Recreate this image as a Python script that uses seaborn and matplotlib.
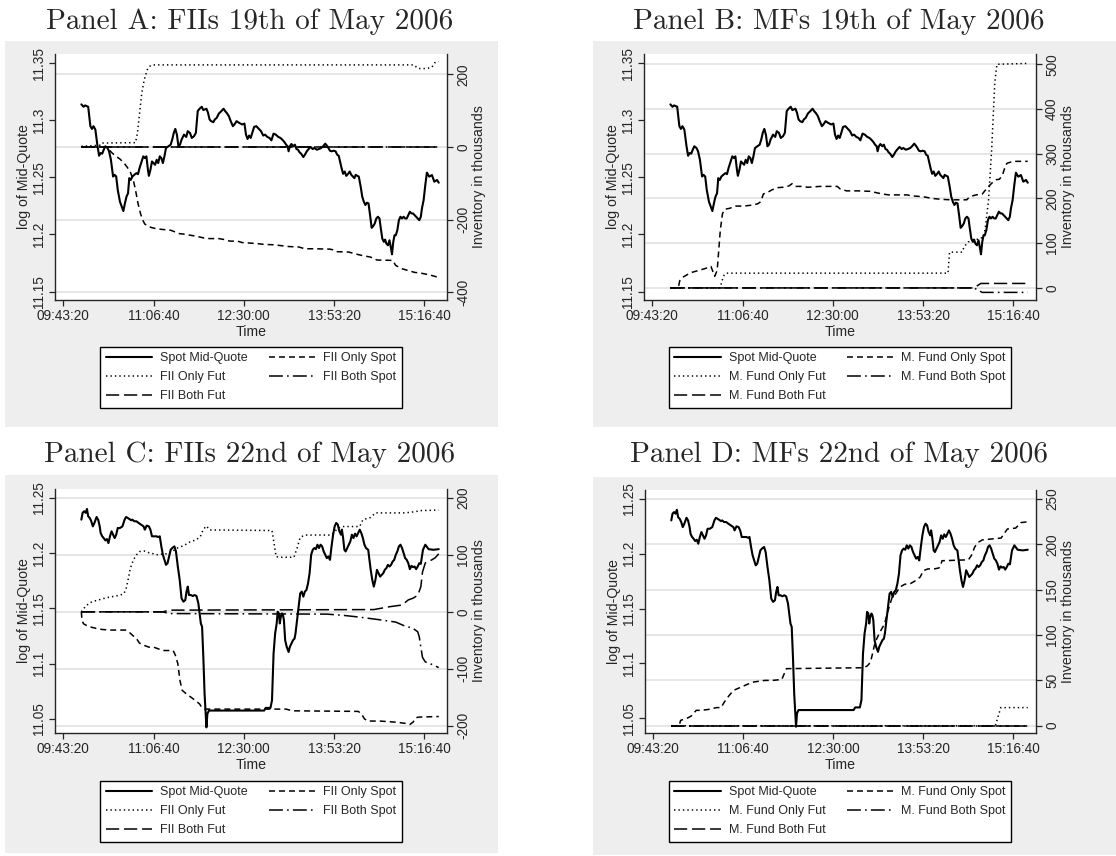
import matplotlib
matplotlib.use('Agg')
import matplotlib.pyplot as plt
from matplotlib.patches import Rectangle
from matplotlib.lines import Line2D
from matplotlib.ticker import FixedLocator
import seaborn as sns

# ---- axis ticks (time in seconds after midnight) ----
time_ticks = [35000, 40000, 45000, 50000, 55000]
time_labels = ['09:43:20', '11:06:40', '12:30:00', '13:53:20', '15:16:40']

# ---- spot mid-quote, 19th of May ----
spot19_t = [36000, 36121, 36207, 36379, 36500, 36586, 36672, 36776, 36896, 36983,
            37069, 37155, 37241, 37327, 37448, 37534, 37638, 37758, 37845, 37931,
            38017, 38138, 38241, 38327, 38414, 38500, 38586, 38655, 38741, 38827,
            38931, 39051, 39138, 39224, 39310, 39431, 39517, 39603, 39689, 39741,
            39827, 39913, 40000, 40086, 40172, 40258, 40344, 40431, 40517, 40603,
            40689, 40827, 40948, 41034, 41120, 41206, 41293, 41379, 41465, 41551,
            41689, 41810, 41896, 42017, 42120, 42241, 42344, 42448, 42551, 42672,
            42758, 42930, 43017, 43103, 43189, 43310, 43396, 43499, 43620, 43758,
            43879, 43965, 44051, 44172, 44275, 44396,
            44479, 44601, 44740, 44913, 45035, 45122, 45208, 45295, 45382, 45469,
            45573, 45694, 45816, 45955, 46076, 46180, 46302, 46424, 46528, 46649,
            46771, 46910, 47031, 47170, 47257, 47344, 47430, 47482, 47552, 47639,
            47743, 47830, 47916, 48003, 48090, 48177, 48298, 48385, 48489, 48594,
            48698, 48819, 48906, 49045, 49166, 49288, 49392, 49514, 49600, 49687,
            49774, 49861, 49982, 50086, 50173, 50260, 50330, 50416, 50503, 50590,
            50677, 50781, 50868, 50954, 51041, 51128, 51198, 51284, 51371, 51475,
            51562, 51649, 51736, 51822, 51909, 51996, 52083, 52170, 52256, 52343,
            52430, 52517, 52586, 52673, 52760, 52829, 52899, 52986, 53072, 53142,
            53211, 53281, 53350, 53420, 53506, 53593, 53680, 53767, 53854, 53940,
            54027, 54114, 54201, 54288, 54374, 54461, 54548, 54635, 54722, 54808,
            54870, 54963, 55056, 55145, 55275, 55425, 55554, 55705, 55800]
spot19_v = [11.3139, 11.3118, 11.3130, 11.3118, 11.2948, 11.2924, 11.2948, 11.2918, 11.2772, 11.2689,
            11.2713, 11.2707, 11.2742, 11.2772, 11.2757, 11.2728, 11.2654, 11.2507, 11.2522, 11.2507,
            11.2390, 11.2287, 11.2243, 11.2205, 11.2272, 11.2331, 11.2360, 11.2493, 11.2478, 11.2507,
            11.2522, 11.2537, 11.2528, 11.2581, 11.2625, 11.2684, 11.2669, 11.2684, 11.2566, 11.2513,
            11.2566, 11.2639, 11.2625, 11.2610, 11.2654, 11.2625, 11.2684, 11.2669, 11.2625, 11.2684,
            11.2757, 11.2772, 11.2786, 11.2830, 11.2889, 11.2924, 11.2874, 11.2772, 11.2786, 11.2830,
            11.2874, 11.2854, 11.2904, 11.2889, 11.2845, 11.2860, 11.2889, 11.3080, 11.3101, 11.3118,
            11.3089, 11.3101, 11.3065, 11.3007, 11.2992, 11.2983, 11.3007, 11.3021, 11.3059, 11.3080,
            11.3101, 11.3080, 11.3065, 11.3036, 11.2992, 11.2948,
            11.2963, 11.2992, 11.2977, 11.2963, 11.2971, 11.2874, 11.2836, 11.2866, 11.2845, 11.2889,
            11.2942, 11.2948, 11.2927, 11.2904, 11.2866, 11.2874, 11.2854, 11.2845, 11.2824, 11.2883,
            11.2874, 11.2854, 11.2845, 11.2824, 11.2807, 11.2786, 11.2772, 11.2728, 11.2772, 11.2792,
            11.2772, 11.2786, 11.2748, 11.2742, 11.2719, 11.2707, 11.2678, 11.2698, 11.2728, 11.2748,
            11.2766, 11.2748, 11.2757, 11.2742, 11.2748, 11.2757, 11.2772, 11.2795, 11.2778, 11.2757,
            11.2733, 11.2728, 11.2733, 11.2728, 11.2698, 11.2689, 11.2639, 11.2581, 11.2531, 11.2551,
            11.2513, 11.2531, 11.2551, 11.2522, 11.2507, 11.2493, 11.2522, 11.2513, 11.2507, 11.2419,
            11.2331, 11.2287, 11.2258, 11.2278, 11.2272, 11.2170, 11.2058, 11.2073, 11.2096, 11.2140,
            11.2155, 11.2140, 11.2058, 11.1964, 11.1935, 11.1955, 11.1920, 11.1905, 11.1949, 11.1890,
            11.1826, 11.1935, 11.1993, 11.1993, 11.2037, 11.2125, 11.2155, 11.2140, 11.2155, 11.2140,
            11.2140, 11.2170, 11.2199, 11.2184, 11.2184, 11.2170, 11.2155, 11.2140, 11.2125, 11.2155,
            11.2228, 11.2301, 11.2433, 11.2541, 11.2506, 11.2520, 11.2462, 11.2477, 11.2453]

# ---- spot mid-quote, 22nd of May ----
spot22_t = [36000, 36069, 36155, 36241, 36310, 36379, 36465, 36552, 36638, 36724,
            36845, 36931, 37017, 37069, 37155, 37241, 37327, 37414, 37500, 37586,
            37672, 37758, 37845, 37931, 38017, 38138, 38276, 38396, 38482, 38569,
            38655, 38758, 38827, 38931, 39051, 39172, 39310, 39448, 39517, 39620,
            39741, 39827, 39913, 40034, 40172, 40258, 40344, 40431, 40517, 40603,
            40689, 40775, 40862, 40948, 41034, 41155, 41241, 41344, 41448, 41551,
            41655, 41758, 41827, 41896, 41965, 42068, 42172, 42275, 42379, 42482,
            42551, 42620, 42689, 42758, 42827, 42879, 42930, 42982, 43068, 44392,
            46128, 46215, 46476, 46562, 46649, 46736, 46823, 46875, 46944, 46996,
            47048, 47118, 47170, 47222, 47292, 47378, 47482, 47552, 47639, 47726,
            47812, 47864, 47951, 48038, 48125, 48212, 48298, 48385, 48472, 48559,
            48646, 48732, 48819, 48906, 48993, 49080, 49166, 49253, 49340, 49427,
            49514, 49600, 49687, 49774, 49861, 49948, 50034, 50121, 50208, 50295,
            50382, 50434, 50503, 50573, 50642, 50729, 50816, 50902, 50989, 51076,
            51163, 51250, 51336, 51423, 51510, 51597, 51684, 51770, 51892, 51961,
            52031, 52118, 52204, 52291, 52378, 52465, 52552, 52638, 52725, 52812,
            52899, 52986, 53072, 53159, 53246, 53333, 53420, 53506, 53593, 53680,
            53767, 53854, 53940, 54027, 54114, 54201, 54288, 54374, 54461, 54548,
            54635, 54722, 54808, 54926, 55056, 55237, 55517, 55800]
spot22_v = [11.2303, 11.2364, 11.2379, 11.2364, 11.2400, 11.2333, 11.2318, 11.2288, 11.2242, 11.2273,
            11.2327, 11.2303, 11.2242, 11.2182, 11.2152, 11.2136, 11.2115, 11.2127, 11.2091, 11.2152,
            11.2197, 11.2167, 11.2136, 11.2167, 11.2227, 11.2227, 11.2242, 11.2303, 11.2327, 11.2318,
            11.2309, 11.2297, 11.2303, 11.2288, 11.2288, 11.2273, 11.2258, 11.2242, 11.2212, 11.2249,
            11.2242, 11.2212, 11.2152, 11.2152, 11.2152, 11.2145, 11.2152, 11.2061, 11.1985, 11.1939,
            11.1894, 11.1909, 11.1970, 11.2030, 11.2046, 11.2061, 11.2015, 11.1879, 11.1758, 11.1591,
            11.1561, 11.1576, 11.1652, 11.1697, 11.1621, 11.1621, 11.1612, 11.1621, 11.1612, 11.1546,
            11.1455, 11.1364, 11.1333, 11.1061, 11.0727, 11.0576, 11.0424, 11.0546, 11.0576, 11.0576,
            11.0576, 11.0600, 11.0600, 11.0667, 11.1091, 11.1273, 11.1364, 11.1470, 11.1455, 11.1364,
            11.1424, 11.1455, 11.1440, 11.1394, 11.1212, 11.1152, 11.1106, 11.1152, 11.1182, 11.1212,
            11.1227, 11.1273, 11.1394, 11.1515, 11.1636, 11.1652, 11.1606, 11.1652, 11.1667, 11.1727,
            11.1818, 11.1985, 11.2030, 11.2046, 11.2036, 11.2076, 11.2046, 11.2076, 11.2061, 11.2015,
            11.1985, 11.1955, 11.1970, 11.1939, 11.2061, 11.2167, 11.2242, 11.2273, 11.2258, 11.2197,
            11.2167, 11.2212, 11.2136, 11.2030, 11.2015, 11.2046, 11.2076, 11.2106, 11.2167, 11.2136,
            11.2176, 11.2152, 11.2182, 11.2212, 11.2182, 11.2136, 11.2076, 11.2046, 11.2030, 11.1939,
            11.1849, 11.1758, 11.1697, 11.1758, 11.1849, 11.1818, 11.1788, 11.1803, 11.1818, 11.1849,
            11.1864, 11.1894, 11.1879, 11.1894, 11.1924, 11.1939, 11.1985, 11.2015, 11.2061, 11.2076,
            11.2046, 11.2000, 11.1955, 11.1939, 11.1909, 11.1855, 11.1885, 11.1873, 11.1879, 11.1855,
            11.1879, 11.1909, 11.1903, 11.2030, 11.2076, 11.2036, 11.2030, 11.2036]

# ---- inventories (thousands), Panel A: FIIs 19th of May ----
fii19_only_spot_t = [36000, 37414, 37500, 37672, 37931, 38138, 38362, 38534, 38707, 38879,
                     38999, 39138, 39276, 39396, 39517, 39689, 39913, 40172, 40517, 40948,
                     41206, 41379, 41724, 42068, 42413, 42758, 43103, 43620, 43965, 44223,
                     44654, 44913, 45260, 45781, 46128, 46649, 46996, 47517, 48038, 48385,
                     48906, 49774, 49948, 50121, 50816, 51163, 51510, 52031, 52378, 53246,
                     53420, 53767, 54114, 54461, 54808, 55300, 55800]
fii19_only_spot_v = [0, 0, -5, -15, -26, -33, -44, -55, -68, -91,
                     -118, -155, -183, -201, -212, -218, -222, -225, -227, -229,
                     -234, -238, -240, -243, -246, -250, -252, -252, -255, -259,
                     -259, -263, -264, -266, -268, -269, -271, -274, -275, -280,
                     -280, -281, -283, -288, -289, -294, -298, -303, -311, -312,
                     -326, -335, -340, -345, -347, -352, -359]
fii19_only_fut_t = [36000, 37069, 37155, 38999, 39103, 39224, 39344, 39482, 39655, 39827,
                    40000, 54409, 54668, 55145, 55425, 55580, 55800]
fii19_only_fut_v = [2, 5, 11, 12, 37, 92, 147, 185, 213, 224,
                    226, 226, 216, 216, 220, 232, 235]
fii19_both_spot_t = [36000, 55800]
fii19_both_spot_v = [0, 0]
fii19_both_fut_t = [36000, 55800]
fii19_both_fut_v = [0, 0]

# ---- Panel B: MFs 19th of May ----
mf19_only_spot_t = [36000, 36434, 36521, 36693, 36953, 37212, 37557, 37903, 38249, 38335,
                    38456, 38594, 38681, 38767, 38888, 39026, 39285, 39631, 40063, 40495,
                    40841, 41013, 41152, 41359, 41618, 41877, 42223, 42569, 42741, 42914,
                    43346, 43605, 44297, 44988, 45247, 45420, 45765, 46370, 47061, 47407,
                    47753, 48098, 48617, 49135, 49308, 49999, 50517, 51036, 51554, 52073,
                    52418, 52591, 52937, 53282, 53541, 53801, 54060, 54233, 54406, 54579,
                    54669, 55000, 55800]
mf19_only_spot_v = [0, 0, 16, 24, 30, 35, 39, 43, 48, 39,
                    26, 39, 84, 129, 166, 176, 178, 183, 183, 185,
                    188, 193, 210, 213, 219, 224, 225, 228, 233, 227,
                    227, 225, 227, 227, 227, 221, 217, 217, 216, 213,
                    210, 208, 208, 208, 206, 204, 200, 198, 197, 197,
                    197, 204, 208, 210, 223, 234, 242, 243, 253, 275,
                    279, 283, 283]
mf19_only_fut_t = [36000, 38767, 38853, 38974, 39112, 51381, 51468, 52159, 52280, 52505,
                   53109, 53368, 53455, 53628, 53801, 53974, 54094, 55800]
mf19_only_fut_v = [0, 0, 15, 28, 33, 33, 80, 80, 92, 103,
                   110, 114, 136, 196, 309, 459, 500, 502]
mf19_both_spot_t = [36000, 52820, 53280, 55800]
mf19_both_spot_v = [0, 0, -10, -10]
mf19_both_fut_t = [36000, 52820, 53200, 55800]
mf19_both_fut_v = [0, 0, 10, 10]

# ---- Panel C: FIIs 22nd of May ----
fii22_only_spot_t = [36000, 36034, 36121, 36293, 36552, 36810, 37155, 37586, 38448, 38620,
                     38827, 39051, 39224, 39482, 39741, 40000, 40258, 40517, 41086, 41206,
                     41344, 41465, 41586, 41810, 42068, 42327, 42551, 42672, 42844, 47344,
                     47691, 51336, 51510, 51684, 51857, 52552, 53420, 53940, 54201, 54374,
                     54548, 54722, 55800]
fii22_only_spot_v = [0, -15, -21, -24, -27, -29, -31, -32, -32, -35,
                     -41, -47, -55, -59, -62, -62, -65, -68, -68, -76,
                     -91, -121, -138, -144, -150, -156, -162, -168, -171, -171,
                     -174, -175, -179, -188, -192, -192, -194, -196, -198, -194,
                     -186, -185, -184]
fii22_only_fut_t = [36000, 36207, 36465, 36724, 37069, 37414, 37758, 38103, 38362, 38482,
                    38586, 38707, 38879, 39051, 39224, 39482, 39741, 40000, 40258, 40517,
                    40775, 41034, 41293, 41551, 41810, 42068, 42327, 42586, 42758, 42930,
                    43103, 46562, 46649, 46788, 46996, 47778, 47951, 48125, 48385, 49774,
                    49948, 50208, 50469, 51423, 51597, 52031, 52291, 53940, 54461, 54808,
                    55800]
fii22_only_fut_v = [0, 9, 16, 19, 22, 25, 27, 29, 32, 41,
                    56, 76, 91, 100, 106, 107, 104, 102, 100, 102,
                    102, 106, 112, 115, 119, 124, 126, 132, 145, 151,
                    144, 143, 126, 97, 96, 96, 112, 131, 135, 135,
                    138, 147, 150, 150, 162, 166, 174, 174, 176, 178,
                    179]
fii22_both_spot_t = [36000, 40517, 40862, 49600, 50469, 51336, 52552, 53420, 53854, 54374,
                     54635, 54722, 54808, 54900, 55056, 55393, 55600, 55800]
fii22_both_spot_v = [0, 0, -3, -4, -6, -9, -14, -18, -24, -29,
                     -35, -44, -62, -80, -88, -92, -95, -98]
fii22_both_fut_t = [36000, 40517, 40862, 52204, 52552, 53072, 53767, 54114, 54374, 54635,
                    54808, 54900, 55056, 55393, 55600, 55800]
fii22_both_fut_v = [0, 0, 3, 4, 6, 9, 12, 21, 24, 29,
                    44, 70, 86, 91, 95, 102]

# ---- Panel D: MFs 22nd of May ----
mf22_only_spot_t = [36000, 36434, 36521, 36693, 36953, 37125, 37385, 37644, 38076, 38508,
                    38767, 38940, 39199, 39458, 39804, 40149, 40495, 40841, 41186, 41618,
                    42137, 42223, 42396, 42569, 46681, 46889, 47061, 47148, 47321, 47580,
                    47839, 48012, 48271, 48444, 48703, 48962, 49308, 49567, 49826, 49999,
                    50258, 50604, 50863, 50949, 51036, 52505, 52677, 52850, 53023, 53282,
                    53801, 54319, 54669, 55132, 55410, 55800]
mf22_only_spot_v = [0, 0, 6, 7, 9, 11, 17, 17, 18, 20,
                    20, 26, 33, 39, 42, 45, 48, 49, 50, 50,
                    51, 55, 63, 63, 64, 66, 70, 77, 92, 103,
                    112, 125, 142, 145, 153, 156, 157, 160, 164, 171,
                    173, 173, 174, 176, 182, 183, 188, 197, 202, 205,
                    206, 207, 217, 218, 224, 225]
mf22_only_fut_t = [36000, 54000, 54150, 54300, 55800]
mf22_only_fut_v = [0, 0, 10, 20, 20]
mf22_both_spot_t = [36000, 55800]
mf22_both_spot_v = [0, 0]
mf22_both_fut_t = [36000, 55800]
mf22_both_fut_v = [0, 0]

fii_names = ['FII Only Spot', 'FII Only Fut', 'FII Both Spot', 'FII Both Fut']
mf_names = ['M. Fund Only Spot', 'M. Fund Only Fut', 'M. Fund Both Spot', 'M. Fund Both Fut']

left_ticks_19 = [11.15, 11.2, 11.25, 11.3, 11.35]
left_ticks_22 = [11.05, 11.1, 11.15, 11.2, 11.25]
right_ticks_a = [-400, -200, 0, 200]
right_ticks_b = [0, 100, 200, 300, 400, 500]
right_ticks_c = [-200, -100, 0, 100, 200]
right_ticks_d = [0, 50, 100, 150, 200, 250]

# ---- style ----
sns.set_style('ticks')
plt.rcParams['font.family'] = ['Liberation Sans', 'DejaVu Sans']
plt.rcParams['lines.scale_dashes'] = False

W, H = 1116, 856
BOX = '#eeeeee'
GRID = '#e2e2e2'

# (linewidth, dash pattern in points)
spot_style = (1.5, None)
inv_styles = [(1.1, (4.3, 2.9)),        # only spot: short dash
              (1.1, (1.0, 2.2)),        # only fut: dots
              (1.1, (10, 3, 1.2, 3)),   # both spot: long dash dot
              (1.1, (9.5, 3.5))]        # both fut: long dash


def px_rect(x0, y0, x1, y1):
    return [x0 / W, 1 - y1 / H, (x1 - x0) / W, (y1 - y0) / H]


def fmt(v):
    return ('%.2f' % v).rstrip('0').rstrip('.')


fig = plt.figure(figsize=(W / 100, H / 100), dpi=100)


def draw_panel(box, rect, title, title_xy, legend_xy, spot_t, spot_v, inv, names,
               left_lim, left_ticks, right_lim, right_ticks):
    fig.patches.append(Rectangle((box[0] / W, 1 - box[3] / H), (box[2] - box[0]) / W,
                                 (box[3] - box[1]) / H, transform=fig.transFigure,
                                 facecolor=BOX, edgecolor='none', zorder=-10))
    fig.text(title_xy[0] / W, 1 - title_xy[1] / H, title, ha='center', va='center',
             fontsize=21, fontfamily='cmr10')

    ax = fig.add_axes(px_rect(*rect))
    ax2 = ax.twinx()
    ax.set_zorder(ax2.get_zorder() + 1)
    ax.patch.set_visible(False)
    ax2.patch.set_visible(True)
    ax2.patch.set_facecolor('white')

    # inventories on the right axis
    for (t, v), (lw, d) in zip(inv, inv_styles):
        sns.lineplot(x=t, y=v, ax=ax2, color='black', linewidth=lw, estimator=None, sort=False)
        ax2.get_lines()[-1].set_dashes(d)
    # spot mid-quote on the left axis
    sns.lineplot(x=spot_t, y=spot_v, ax=ax, color='black', linewidth=spot_style[0],
                 estimator=None, sort=False)

    ax.set_xlim(34540, 56258)
    ax.set_ylim(*left_lim)
    ax2.set_ylim(*right_lim)

    ax.xaxis.set_major_locator(FixedLocator(time_ticks))
    ax.set_xticklabels(time_labels)
    ax.yaxis.set_major_locator(FixedLocator(left_ticks))
    ax.set_yticklabels([fmt(v) for v in left_ticks])
    ax2.yaxis.set_major_locator(FixedLocator(right_ticks))
    ax2.set_yticklabels([str(v) for v in right_ticks])

    ax2.yaxis.grid(True, color=GRID, linewidth=1.2)
    ax2.set_axisbelow(True)

    for a in (ax, ax2):
        a.tick_params(direction='out', length=4, width=0.9, labelsize=9.8, pad=2.5)
        for s in a.spines.values():
            s.set_linewidth(1.0)
    ax.spines['top'].set_visible(False)
    ax.spines['right'].set_visible(False)
    for s in ('top', 'left', 'bottom'):
        ax2.spines[s].set_visible(False)
    for lab in ax.get_yticklabels():
        lab.set_rotation(90)
        lab.set_va('center')
    for lab in ax2.get_yticklabels():
        lab.set_rotation(90)
        lab.set_va('center')

    ax.set_xlabel('Time', fontsize=10.2, labelpad=1.5)
    ax.set_ylabel('log of Mid-Quote', fontsize=10.2, labelpad=1)
    ax2.set_ylabel('Inventory in thousands', fontsize=10.2, labelpad=1.5)

    # legend: two columns, filled column-wise
    order = [None, 1, 3, 0, 2]
    handles, labels = [], []
    for k in order:
        if k is None:
            lw, d = spot_style
            lab = 'Spot Mid-Quote'
        else:
            lw, d = inv_styles[k]
            lab = names[k]
        h = Line2D([], [], color='black', linewidth=lw)
        if d:
            h.set_dashes(d)
        handles.append(h)
        labels.append(lab)
    leg = fig.legend(handles, labels, loc='center', ncol=2,
                     bbox_to_anchor=(legend_xy[0] / W, 1 - legend_xy[1] / H),
                     fontsize=9, frameon=True, fancybox=False, edgecolor='black',
                     framealpha=1, handlelength=3.7, handletextpad=0.65,
                     columnspacing=1.7, labelspacing=0.55, borderpad=0.45)
    leg.get_frame().set_linewidth(1.0)


draw_panel((5, 41, 498, 427), (55, 54, 447, 300), 'Panel A: FIIs 19th of May 2006',
           (250, 22), (251, 377), spot19_t, spot19_v,
           [(fii19_only_spot_t, fii19_only_spot_v), (fii19_only_fut_t, fii19_only_fut_v),
            (fii19_both_spot_t, fii19_both_spot_v), (fii19_both_fut_t, fii19_both_fut_v)],
           fii_names, (11.1426, 11.358), left_ticks_19, (-421, 256), right_ticks_a)

draw_panel((593, 41, 1116, 427), (644, 54, 1036, 300), 'Panel B: MFs 19th of May 2006',
           (839, 22), (840, 377), spot19_t, spot19_v,
           [(mf19_only_spot_t, mf19_only_spot_v), (mf19_only_fut_t, mf19_only_fut_v),
            (mf19_both_spot_t, mf19_both_spot_v), (mf19_both_fut_t, mf19_both_fut_v)],
           mf_names, (11.1426, 11.358), left_ticks_19, (-27, 523), right_ticks_b)

draw_panel((5, 475, 498, 853), (55, 489, 447, 733), 'Panel C: FIIs 22nd of May 2006',
           (250, 455), (251, 811), spot22_t, spot22_v,
           [(fii22_only_spot_t, fii22_only_spot_v), (fii22_only_fut_t, fii22_only_fut_v),
            (fii22_both_spot_t, fii22_both_spot_v), (fii22_both_fut_t, fii22_both_fut_v)],
           fii_names, (11.0373, 11.258), left_ticks_22, (-213, 216), right_ticks_c)

draw_panel((593, 477, 1116, 855), (645, 490, 1036, 733), 'Panel D: MFs 22nd of May 2006',
           (839, 455), (840, 811), spot22_t, spot22_v,
           [(mf22_only_spot_t, mf22_only_spot_v), (mf22_only_fut_t, mf22_only_fut_v),
            (mf22_both_spot_t, mf22_both_spot_v), (mf22_both_fut_t, mf22_both_fut_v)],
           mf_names, (11.0367, 11.258), left_ticks_22, (-8, 260), right_ticks_d)

fig.savefig('out.png', dpi=100, facecolor='white')
